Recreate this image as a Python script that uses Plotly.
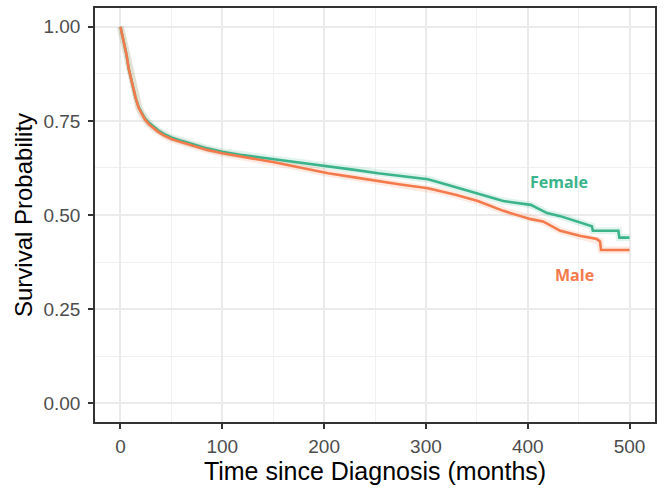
import plotly.graph_objects as go

# Kaplan-Meier survival estimates
female_time = [0, 2, 4, 6, 8, 10, 12, 15, 18, 21, 24, 28, 32, 37, 43, 50, 60, 73, 85, 100,
               120, 151, 175, 204, 230, 253, 275, 302, 315, 330, 351, 376, 403, 419, 432,
               452, 463, 464, 489, 490, 500]
female_surv = [1.0, 0.975, 0.95, 0.925, 0.89, 0.865, 0.84, 0.81, 0.786, 0.77, 0.757, 0.745,
               0.735, 0.725, 0.715, 0.706, 0.697, 0.686, 0.677, 0.668,
               0.659, 0.648, 0.640, 0.630, 0.620, 0.611, 0.604, 0.595, 0.585, 0.573, 0.555,
               0.537, 0.527, 0.505, 0.497, 0.479, 0.470, 0.458, 0.458, 0.440, 0.440]

male_time = [0, 2, 4, 6, 8, 10, 12, 15, 18, 21, 24, 28, 32, 37, 43, 50, 60, 73, 85, 100,
             120, 151, 175, 204, 230, 253, 275, 302, 315, 330, 351, 376, 393, 403, 415,
             432, 452, 468, 471, 472, 500]
male_surv = [1.0, 0.975, 0.95, 0.925, 0.89, 0.865, 0.84, 0.81, 0.784, 0.767, 0.754, 0.741,
             0.731, 0.721, 0.711, 0.702, 0.693, 0.682, 0.673, 0.664,
             0.655, 0.640, 0.627, 0.611, 0.600, 0.590, 0.581, 0.571, 0.563, 0.553, 0.537,
             0.511, 0.497, 0.489, 0.483, 0.458, 0.444, 0.436, 0.430, 0.407, 0.407]

series_names = ["Female", "Male"]
series_colors = ["#3BB48C", "#F47A4C"]
label_pos = [(431, 0.587), (446, 0.341)]

x_ticks = [0, 100, 200, 300, 400, 500]
y_ticks = [0.0, 0.25, 0.5, 0.75, 1.0]
y_ticklabels = ["0.00", "0.25", "0.50", "0.75", "1.00"]

fig = go.Figure()
data = [(female_time, female_surv), (male_time, male_surv)]
# faint confidence-band look (wide translucent stroke under each curve)
for (t, s), c in zip(data, series_colors):
    fig.add_trace(go.Scatter(x=t, y=s, mode="lines", line=dict(color=c, width=7),
                             opacity=0.15, hoverinfo="skip", showlegend=False))
for (t, s), c, n in zip(data, series_colors, series_names):
    fig.add_trace(go.Scatter(x=t, y=s, mode="lines", name=n,
                             line=dict(color=c, width=2.6), showlegend=False))

for (lx, ly), c, n in zip(label_pos, series_colors, series_names):
    fig.add_annotation(x=lx, y=ly, text=f"<b>{n}</b>", showarrow=False,
                       font=dict(family="Open Sans", size=16, color=c))

axis_common = dict(
    showline=True, linecolor="#333333", linewidth=1.5, mirror=True,
    ticks="outside", ticklen=5, tickwidth=1.5, tickcolor="#333333",
    showgrid=True, gridcolor="#EBEBEB", gridwidth=2,
    zeroline=False,
    tickfont=dict(family="Liberation Sans, Arial", size=19, color="#4D4D4D"),
)

fig.update_xaxes(range=[-25, 525], tickvals=x_ticks,
                 minor=dict(dtick=50, tick0=0, showgrid=True, gridcolor="#F0F0F0",
                            gridwidth=1, ticks=""),
                 title_text="Time since Diagnosis (months)", title_standoff=5,
                 title_font=dict(family="Liberation Sans, Arial", size=25, color="#000000"),
                 ticklabelstandoff=1,
                 **axis_common)
fig.update_yaxes(range=[-0.05, 1.05], tickvals=y_ticks, ticktext=y_ticklabels,
                 minor=dict(dtick=0.125, tick0=0, showgrid=True, gridcolor="#F0F0F0",
                            gridwidth=1, ticks=""),
                 title_text="Survival Probability", title_standoff=4,
                 title_font=dict(family="Liberation Sans, Arial", size=24, color="#000000"),
                 ticklabelstandoff=4,
                 **axis_common)

fig.update_layout(
    width=669, height=489,
    margin=dict(l=95, r=14, t=6, b=67),
    paper_bgcolor="white", plot_bgcolor="white",
    showlegend=False,
)

fig.write_html("out.html")
